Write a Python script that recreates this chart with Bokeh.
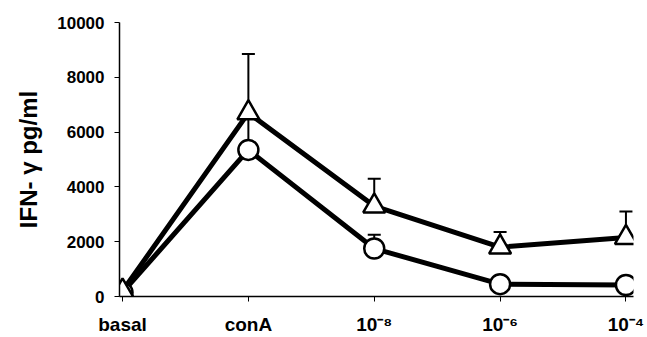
from bokeh.plotting import figure
from bokeh.models import Range1d, FixedTicker, Whisker, ColumnDataSource, TeeHead
from bokeh.embed import file_html
from bokeh.resources import INLINE

categories = ["basal", "conA", "10⁻⁸", "10⁻⁶", "10⁻⁴"]
tri_values = [200, 6700, 3300, 1800, 2150]
tri_upper = [200, 8850, 4300, 2350, 3100]
circ_values = [150, 5350, 1750, 450, 420]
circ_upper = [150, 6500, 2250, 450, 420]
y_ticks = [0, 2000, 4000, 6000, 8000, 10000]

xs = list(range(len(categories)))

p = figure(width=647, height=337, output_backend="svg", toolbar_location=None,
           x_range=Range1d(-0.024, 4.06), y_range=Range1d(0, 10000),
           min_border_left=119, min_border_right=14, min_border_top=22, min_border_bottom=41)
p.outline_line_color = None
p.xgrid.visible = False
p.ygrid.visible = False
p.background_fill_color = "white"
p.border_fill_color = "white"

font = "Liberation Sans"

p.xaxis.ticker = FixedTicker(ticks=xs)
p.xaxis.major_label_overrides = {i: c for i, c in enumerate(categories)}
p.xaxis.major_label_text_font = font
p.xaxis.major_label_text_font_style = "bold"
p.xaxis.major_label_text_font_size = "19px"
p.xaxis.major_label_text_color = "black"
p.xaxis.major_tick_in = 0
p.xaxis.major_tick_out = 5
p.xaxis.minor_tick_line_color = None
p.xaxis.major_label_standoff = 12
p.xaxis.axis_line_width = 1.5
p.xaxis.axis_line_color = "black"
p.xaxis.major_tick_line_color = "black"

p.yaxis.ticker = FixedTicker(ticks=y_ticks)
p.yaxis.major_label_text_font = font
p.yaxis.major_label_text_font_style = "bold"
p.yaxis.major_label_text_font_size = "17px"
p.yaxis.major_label_text_color = "black"
p.yaxis.major_tick_in = 0
p.yaxis.major_tick_out = 5
p.yaxis.minor_tick_line_color = None
p.yaxis.major_label_standoff = 10
p.yaxis.axis_line_width = 1.5
p.yaxis.axis_line_color = "black"
p.yaxis.major_tick_line_color = "black"
p.yaxis.axis_label = "IFN- γ pg/ml"
p.yaxis.axis_label_text_font = font
p.yaxis.axis_label_text_font_style = "bold"
p.yaxis.axis_label_text_font_size = "24px"
p.yaxis.axis_label_text_color = "black"
p.yaxis.axis_label_standoff = 12

tri_src = ColumnDataSource(dict(x=xs, y=tri_values, up=tri_upper))
circ_src = ColumnDataSource(dict(x=xs, y=circ_values, up=circ_upper))

p.line("x", "y", source=tri_src, line_width=5, line_color="black")
p.line("x", "y", source=circ_src, line_width=5, line_color="black")

for src in (tri_src, circ_src):
    w = Whisker(source=src, base="x", lower="y", upper="up", line_width=2, line_color="black",
                upper_head=TeeHead(size=13, line_width=2, line_color="black"), lower_head=None)
    p.add_layout(w)

p.scatter("x", "y", source=circ_src, marker="circle", size=20, fill_color="white",
          line_color="black", line_width=2.5)
p.scatter("x", "y", source=tri_src, marker="triangle", size=22, fill_color="white",
          line_color="black", line_width=2.5)

open("out.html", "w").write(file_html(p, INLINE))
